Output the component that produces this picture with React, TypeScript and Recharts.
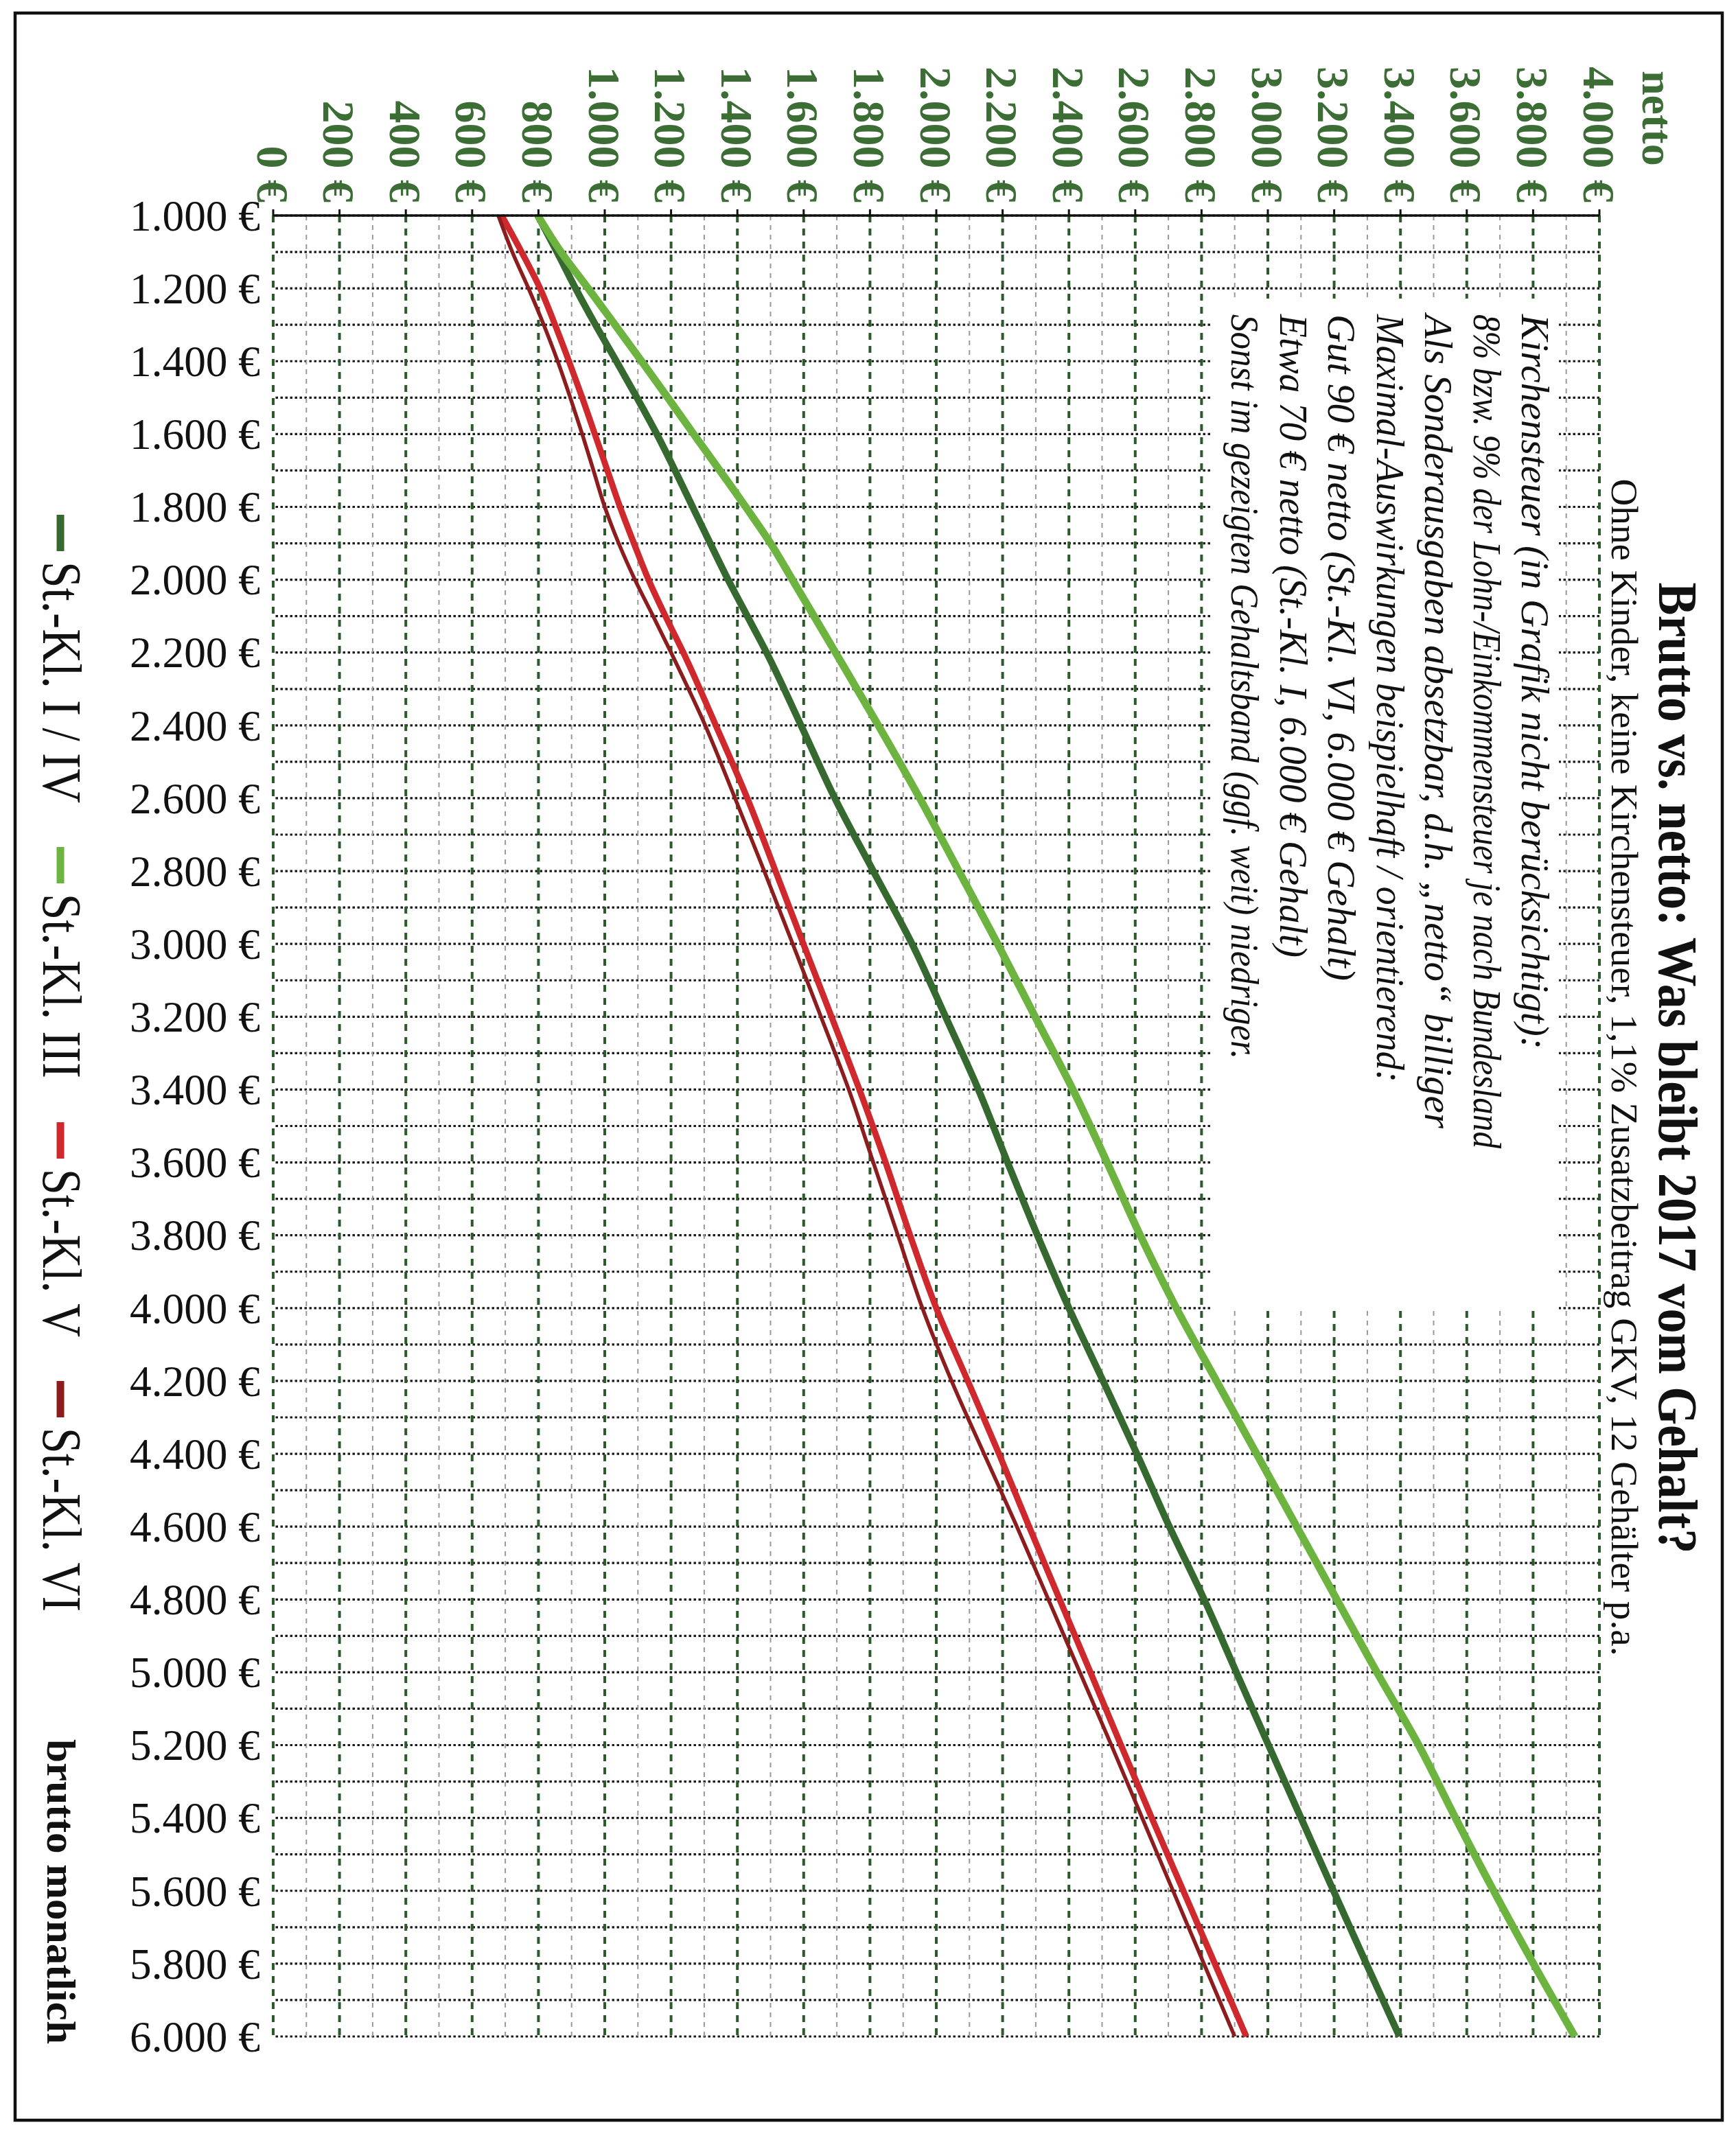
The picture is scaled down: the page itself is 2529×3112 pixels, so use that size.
import React from "react"
import { CartesianGrid, Legend, Line, LineChart, XAxis, YAxis } from "recharts"

// brutto monatlich (€) and netto per Steuerklasse (€)
const BRUTTO = [
  1000, 1100, 1200, 1300, 1400, 1500, 1600, 1700, 1800, 1900, 2000, 2100, 2200, 2400, 2600, 2800,
  3000, 3200, 3400, 3600, 3800, 4000, 4200, 4400, 4600, 4800, 5000, 5200, 5400, 5600, 5800, 6000,
]
const KL_I_IV = [
  798, 856, 912, 972, 1035, 1097, 1157, 1212, 1265, 1318, 1372, 1430, 1488, 1592, 1694, 1810,
  1927, 2028, 2127, 2215, 2305, 2400, 2503, 2605, 2703, 2808, 2905, 3002, 3100, 3198, 3297, 3397,
]
const KL_III = [
  798, 868, 950, 1031, 1111, 1190, 1268, 1347, 1425, 1500, 1566, 1631, 1696, 1825, 1950, 2068,
  2185, 2298, 2412, 2515, 2615, 2724, 2845, 2966, 3087, 3208, 3329, 3455, 3566, 3681, 3801, 3926,
]
const KL_V = [
  689, 749, 805, 850, 892, 932, 970, 1008, 1046, 1088, 1132, 1183, 1237, 1335, 1430, 1515,
  1599, 1684, 1768, 1847, 1921, 2000, 2095, 2189, 2280, 2372, 2465, 2557, 2650, 2745, 2840, 2935,
]
const KL_VI = [
  679, 721, 770, 816, 858, 896, 932, 966, 1000, 1042, 1091, 1146, 1200, 1303, 1393, 1481,
  1567, 1652, 1736, 1810, 1884, 1958, 2046, 2144, 2243, 2338, 2433, 2528, 2621, 2714, 2807, 2900,
]

const BRUTTO_TICKS = [
  1000, 1200, 1400, 1600, 1800, 2000, 2200, 2400, 2600, 2800, 3000, 3200, 3400,
  3600, 3800, 4000, 4200, 4400, 4600, 4800, 5000, 5200, 5400, 5600, 5800, 6000,
]
const NETTO_TICKS = [
  0, 200, 400, 600, 800, 1000, 1200, 1400, 1600, 1800, 2000,
  2200, 2400, 2600, 2800, 3000, 3200, 3400, 3600, 3800, 4000,
]
const BRUTTO_GRID = BRUTTO_TICKS.flatMap((t) => (t < 6000 ? [t, t + 100] : [t]))
const NETTO_MINOR = NETTO_TICKS.slice(0, -1).map((t) => t + 100)

const TITLE = "Brutto vs. netto: Was bleibt 2017 vom Gehalt?"
const SUBTITLE = "Ohne Kinder, keine Kirchensteuer, 1,1% Zusatzbeitrag GKV, 12 Gehälter p.a."
const NOTES = [
  "Kirchensteuer (in Grafik nicht berücksichtigt):",
  "8% bzw. 9% der Lohn-/Einkommensteuer je nach Bundesland",
  "Als Sonderausgaben absetzbar, d.h. „netto“ billiger",
  "Maximal-Auswirkungen beispielhaft / orientierend:",
  "Gut 90 € netto (St.-Kl. VI, 6.000 € Gehalt)",
  "Etwa 70 € netto (St.-Kl. I, 6.000 € Gehalt)",
  "Sonst im gezeigten Gehaltsband (ggf. weit) niedriger.",
]

const SERIES = [
  { key: "i4", name: "St.-Kl. I / IV", color: "#35692f", width: 10 },
  { key: "iii", name: "St.-Kl. III", color: "#6cb33f", width: 11 },
  { key: "v", name: "St.-Kl. V", color: "#cf282d", width: 9 },
  { key: "vi", name: "St.-Kl. VI", color: "#8c1d1f", width: 5.5 },
]

const data = BRUTTO.map((b, i) => ({
  brutto: b,
  i4: KL_I_IV[i],
  iii: KL_III[i],
  v: KL_V[i],
  vi: KL_VI[i],
}))

// the chart is drawn landscape and turned a quarter clockwise
const W = 3112
const H = 2529
const SERIF = "'Liberation Serif', 'Times New Roman', serif"
const GREEN = "#3b6d35"
const NOTE_LENGTHS = [1071, 1215, 1186, 1119, 971, 937, 1085]
const LEGEND_LENGTHS = [352, 269, 245, 268]

const euro = (v: number) => `${String(v).replace(/\B(?=(\d{3})+(?!\d))/g, ".")} €`

function BruttoTick({ x, y, payload }: any) {
  return (
    <text
      x={x}
      y={y}
      transform={`rotate(-90 ${x} ${y})`}
      textAnchor="end"
      dy="0.34em"
      fontFamily={SERIF}
      fontSize={64}
      fill="#111"
      textLength={190}
      lengthAdjust="spacingAndGlyphs"
    >
      {euro(payload.value)}
    </text>
  )
}

function LegendContent({ payload }: any) {
  let x = 750
  return (
    <svg width={W} height={120}>
      {(payload || []).map((p: any, i: number) => {
        const x0 = x
        x += 53 + 15 + LEGEND_LENGTHS[i] + 64
        return (
          <g key={p.value}>
            <line x1={x0} x2={x0 + 53} y1={61} y2={61} stroke={p.color} strokeWidth={11} />
            <text
              x={x0 + 68}
              y={86}
              fontFamily={SERIF}
              fontSize={80}
              fill="#111"
              textLength={LEGEND_LENGTHS[i]}
              lengthAdjust="spacingAndGlyphs"
            >
              {p.value}
            </text>
          </g>
        )
      })}
    </svg>
  )
}

export default function App() {
  return (
    <div
      style={{ position: "absolute", left: 0, top: 0, width: H, height: W, overflow: "hidden", background: "#fff" }}
    >
      <div
        style={{
          position: "absolute",
          left: 0,
          top: 0,
          width: W,
          height: H,
          transformOrigin: "0 0",
          transform: `translateX(${H}px) rotate(90deg)`,
        }}
      >
        <LineChart width={W} height={H} data={data} margin={{ top: 199, right: 145, bottom: 0, left: 0 }}>
          <CartesianGrid
            horizontal={false}
            verticalValues={BRUTTO_GRID}
            stroke="#1a1a1a"
            strokeWidth={3.2}
            strokeDasharray="3.5 3.5"
          />
          <CartesianGrid
            vertical={false}
            horizontalValues={NETTO_MINOR}
            stroke="#999"
            strokeWidth={2}
            strokeDasharray="7 7"
          />
          <CartesianGrid
            vertical={false}
            horizontalValues={NETTO_TICKS}
            stroke="#2c5a2c"
            strokeWidth={4}
            strokeDasharray="10 9"
          />
          <XAxis
            type="number"
            dataKey="brutto"
            domain={[1000, 6000]}
            ticks={BRUTTO_TICKS}
            interval={0}
            height={398}
            tickLine={false}
            axisLine={false}
            tickSize={0}
            tickMargin={19}
            tick={<BruttoTick />}
          />
          <YAxis
            type="number"
            domain={[0, 4000]}
            ticks={NETTO_TICKS}
            interval={0}
            width={314}
            tickFormatter={euro}
            axisLine={{ stroke: "#111", strokeWidth: 3.5 }}
            tickLine={{ stroke: "#111", strokeWidth: 3 }}
            tickSize={9}
            tickMargin={10}
            tick={{ fill: GREEN, fontSize: 66, fontWeight: 700, fontFamily: SERIF }}
          />
          {SERIES.map((s) => (
            <Line
              key={s.key}
              type="monotone"
              dataKey={s.key}
              name={s.name}
              stroke={s.color}
              strokeWidth={s.width}
              dot={false}
              activeDot={false}
              isAnimationActive={false}
            />
          ))}
          <Legend
            layout="horizontal"
            verticalAlign="middle"
            align="center"
            wrapperStyle={{ position: "absolute", left: 0, top: 2380, width: W, height: 120 }}
            content={<LegendContent />}
          />
        </LineChart>

        <svg width={W} height={H} style={{ position: "absolute", left: 0, top: 0, pointerEvents: "none" }}>
          <rect x={19} y={20} width={3070} height={2487} fill="none" stroke="#111" strokeWidth={4.5} />
          <text
            x={1556}
            y={112}
            textAnchor="middle"
            fontFamily={SERIF}
            fontWeight={700}
            fontSize={80}
            fill="#111"
            textLength={1415}
            lengthAdjust="spacingAndGlyphs"
          >
            {TITLE}
          </text>
          <text
            x={1555}
            y={181}
            textAnchor="middle"
            fontFamily={SERIF}
            fontSize={55}
            fill="#111"
            textLength={1715}
            lengthAdjust="spacingAndGlyphs"
          >
            {SUBTITLE}
          </text>
          <text x={103} y={136} fontFamily={SERIF} fontWeight={700} fontSize={64} fill={GREEN}>
            netto
          </text>
          <text
            x={2534}
            y={2460}
            fontFamily={SERIF}
            fontWeight={700}
            fontSize={60}
            fill="#111"
            textLength={444}
            lengthAdjust="spacingAndGlyphs"
          >
            brutto monatlich
          </text>
          <rect x={435} y={258} width={1475} height={508} fill="#fff" />
          {NOTES.map((line, i) => (
            <text
              key={i}
              x={458}
              y={312 + i * 70.5}
              fontFamily={SERIF}
              fontStyle="italic"
              fontSize={57}
              fill="#111"
              textLength={NOTE_LENGTHS[i]}
              lengthAdjust="spacingAndGlyphs"
            >
              {line}
            </text>
          ))}
        </svg>
      </div>
    </div>
  )
}
